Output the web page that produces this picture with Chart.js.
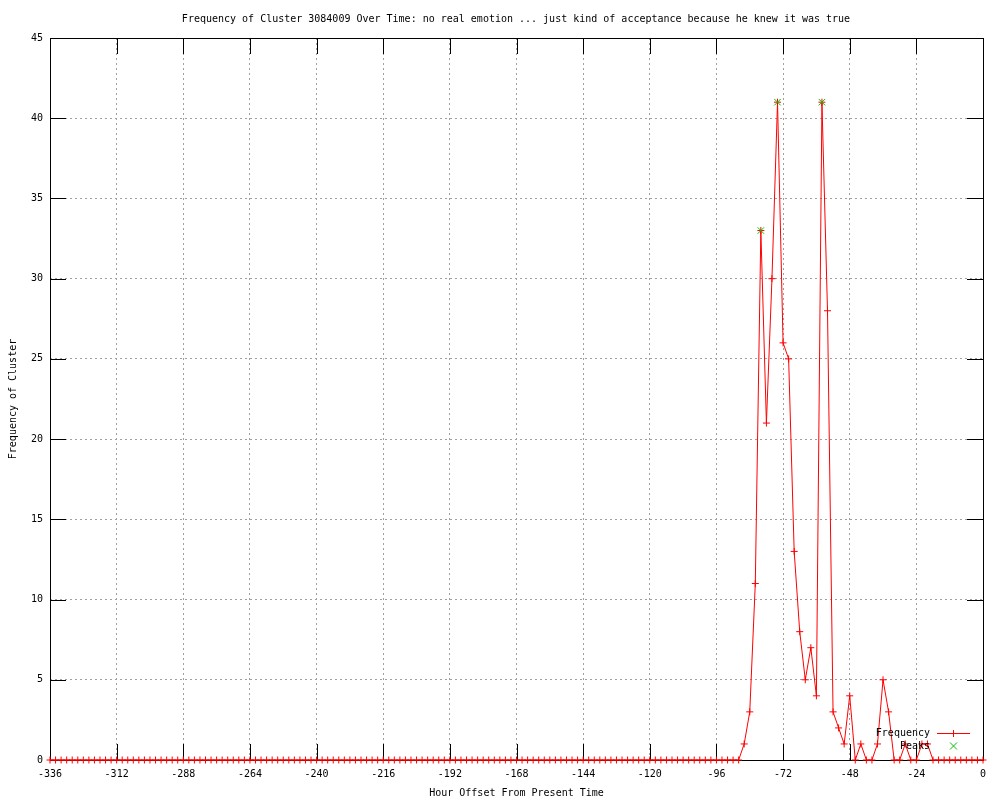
<!DOCTYPE html>
<html>
<head>
<meta charset="utf-8">
<title>Frequency of Cluster 3084009</title>
<script src="https://cdn.jsdelivr.net/npm/chart.js@4.4.1/dist/chart.umd.min.js"></script>
<style>
  html, body { margin: 0; padding: 0; background: #fff; }
  #wrap { width: 1000px; height: 800px; }
</style>
</head>
<body>
<div id="wrap"><canvas id="clusterChart" width="1000" height="800"></canvas></div>
<script>
const chartTitle = "Frequency of Cluster 3084009 Over Time: no real emotion ... just kind of acceptance because he knew it was true";
const xAxisTitle = "Hour Offset From Present Time";
const yAxisTitle = "Frequency of Cluster";

// hour offsets, one point every 2 hours
const hours = [
  -336, -334, -332, -330, -328, -326, -324, -322, -320, -318, -316, -314,
  -312, -310, -308, -306, -304, -302, -300, -298, -296, -294, -292, -290,
  -288, -286, -284, -282, -280, -278, -276, -274, -272, -270, -268, -266,
  -264, -262, -260, -258, -256, -254, -252, -250, -248, -246, -244, -242,
  -240, -238, -236, -234, -232, -230, -228, -226, -224, -222, -220, -218,
  -216, -214, -212, -210, -208, -206, -204, -202, -200, -198, -196, -194,
  -192, -190, -188, -186, -184, -182, -180, -178, -176, -174, -172, -170,
  -168, -166, -164, -162, -160, -158, -156, -154, -152, -150, -148, -146,
  -144, -142, -140, -138, -136, -134, -132, -130, -128, -126, -124, -122,
  -120, -118, -116, -114, -112, -110, -108, -106, -104, -102, -100, -98,
  -96, -94, -92, -90, -88, -86, -84, -82, -80, -78, -76, -74,
  -72, -70, -68, -66, -64, -62, -60, -58, -56, -54, -52, -50,
  -48, -46, -44, -42, -40, -38, -36, -34, -32, -30, -28, -26,
  -24, -22, -20, -18, -16, -14, -12, -10, -8, -6, -4, -2,
  0
];

const frequency = [
  0, 0, 0, 0, 0, 0, 0, 0, 0, 0, 0, 0,
  0, 0, 0, 0, 0, 0, 0, 0, 0, 0, 0, 0,
  0, 0, 0, 0, 0, 0, 0, 0, 0, 0, 0, 0,
  0, 0, 0, 0, 0, 0, 0, 0, 0, 0, 0, 0,
  0, 0, 0, 0, 0, 0, 0, 0, 0, 0, 0, 0,
  0, 0, 0, 0, 0, 0, 0, 0, 0, 0, 0, 0,
  0, 0, 0, 0, 0, 0, 0, 0, 0, 0, 0, 0,
  0, 0, 0, 0, 0, 0, 0, 0, 0, 0, 0, 0,
  0, 0, 0, 0, 0, 0, 0, 0, 0, 0, 0, 0,
  0, 0, 0, 0, 0, 0, 0, 0, 0, 0, 0, 0,
  0, 0, 0, 0, 0, 1, 3, 11, 33, 21, 30, 41,
  26, 25, 13, 8, 5, 7, 4, 41, 28, 3, 2, 1,
  4, 0, 1, 0, 0, 1, 5, 3, 0, 0, 1, 0,
  0, 1, 1, 0, 0, 0, 0, 0, 0, 0, 0, 0,
  0
];

const peakHours = [-80, -74, -58];
const peakValues = [33, 41, 41];

const xTickValues = [-336, -312, -288, -264, -240, -216, -192, -168, -144, -120, -96, -72, -48, -24, 0];
const yTickValues = [0, 5, 10, 15, 20, 25, 30, 35, 40, 45];

const FONT = "DejaVu Sans Mono";
const RED = "#ff0000";
const GREEN = "#00c000";
const TICK_LEN = 16;

// gnuplot-ish frame, inward ticks, title and key
const gnuplotLook = {
  id: "gnuplotLook",
  beforeDatasetsDraw(chart) {
    const ctx = chart.ctx;
    const area = chart.chartArea;
    const xs = chart.scales.x;
    const ys = chart.scales.y;
    ctx.save();
    ctx.strokeStyle = "#000";
    ctx.lineWidth = 1;
    ctx.beginPath();
    xTickValues.forEach(function (v) {
      const px = Math.round(xs.getPixelForValue(v)) + 0.5;
      ctx.moveTo(px, area.bottom);
      ctx.lineTo(px, area.bottom - TICK_LEN);
      ctx.moveTo(px, area.top);
      ctx.lineTo(px, area.top + TICK_LEN);
    });
    yTickValues.forEach(function (v) {
      const py = Math.round(ys.getPixelForValue(v)) + 0.5;
      ctx.moveTo(area.left, py);
      ctx.lineTo(area.left + TICK_LEN, py);
      ctx.moveTo(area.right, py);
      ctx.lineTo(area.right - TICK_LEN, py);
    });
    ctx.stroke();
    ctx.strokeRect(Math.round(area.left) + 0.5, Math.round(area.top) + 0.5,
      Math.round(area.right - area.left), Math.round(area.bottom - area.top));
    ctx.restore();
  },
  afterDatasetsDraw(chart) {
    const ctx = chart.ctx;
    ctx.save();
    ctx.font = "10px '" + FONT + "'";
    ctx.fillStyle = "#000";
    ctx.textAlign = "right";
    ctx.textBaseline = "middle";
    ctx.fillText("Frequency", 930, 733);
    ctx.fillText("Peaks", 930, 746);

    ctx.strokeStyle = RED;
    ctx.lineWidth = 1;
    ctx.beginPath();
    ctx.moveTo(937, 733.5);
    ctx.lineTo(970, 733.5);
    ctx.moveTo(953.5, 730);
    ctx.lineTo(953.5, 737);
    ctx.stroke();

    ctx.strokeStyle = GREEN;
    ctx.beginPath();
    ctx.moveTo(950, 742.5);
    ctx.lineTo(957, 749.5);
    ctx.moveTo(957, 742.5);
    ctx.lineTo(950, 749.5);
    ctx.stroke();

    ctx.textAlign = "center";
    ctx.fillText(chartTitle, 516, 19);
    ctx.restore();
  }
};

const ctx = document.getElementById("clusterChart");
const clusterChart = new Chart(ctx.getContext("2d"), {
  type: "line",
  data: {
    datasets: [
      {
        label: "Frequency",
        data: hours.map(function (h, i) { return { x: h, y: frequency[i] }; }),
        borderColor: RED,
        backgroundColor: RED,
        borderWidth: 1,
        tension: 0,
        fill: false,
        pointStyle: "cross",
        pointRadius: 3.5,
        pointBorderColor: RED,
        pointBorderWidth: 1,
        clip: false,
        order: 1,
      },
      {
        label: "Peaks",
        data: peakHours.map(function (h, i) { return { x: h, y: peakValues[i] }; }),
        showLine: false,
        pointStyle: "crossRot",
        pointRadius: 4.5,
        pointBorderColor: GREEN,
        pointBorderWidth: 1,
        borderColor: GREEN,
        clip: false,
        order: 0,
      },
    ],
  },
  options: {
    responsive: false,
    animation: false,
    devicePixelRatio: 1,
    layout: {
      padding: { top: 38, right: 17, left: 0, bottom: 0 },
    },
    plugins: {
      legend: { display: false },
      title: { display: false },
      tooltip: { enabled: false },
    },
    scales: {
      x: {
        type: "linear",
        min: -336,
        max: 0,
        afterBuildTicks: function (scale) {
          scale.ticks = xTickValues.map(function (v) { return { value: v }; });
        },
        afterFit: function (scale) { scale.height = 40; },
        ticks: {
          color: "#000",
          font: { family: FONT, size: 10 },
          padding: 8,
          maxRotation: 0,
          autoSkip: false,
        },
        grid: { color: "#a0a0a0", lineWidth: 1, drawTicks: false },
        border: { display: false, dash: [2, 3] },
        title: {
          display: true,
          text: xAxisTitle,
          color: "#000",
          font: { family: FONT, size: 10 },
          padding: { top: 0, bottom: 1 },
        },
      },
      y: {
        type: "linear",
        min: 0,
        max: 45,
        afterBuildTicks: function (scale) {
          scale.ticks = yTickValues.map(function (v) { return { value: v }; });
        },
        afterFit: function (scale) { scale.width = 50; },
        ticks: {
          color: "#000",
          font: { family: FONT, size: 10 },
          padding: 7,
          autoSkip: false,
        },
        grid: { color: "#a0a0a0", lineWidth: 1, drawTicks: false },
        border: { display: false, dash: [2, 3] },
        title: {
          display: true,
          text: yAxisTitle,
          color: "#000",
          font: { family: FONT, size: 10 },
          padding: { top: 7, bottom: 0 },
        },
      },
    },
  },
  plugins: [gnuplotLook],
});
</script>
</body>
</html>
